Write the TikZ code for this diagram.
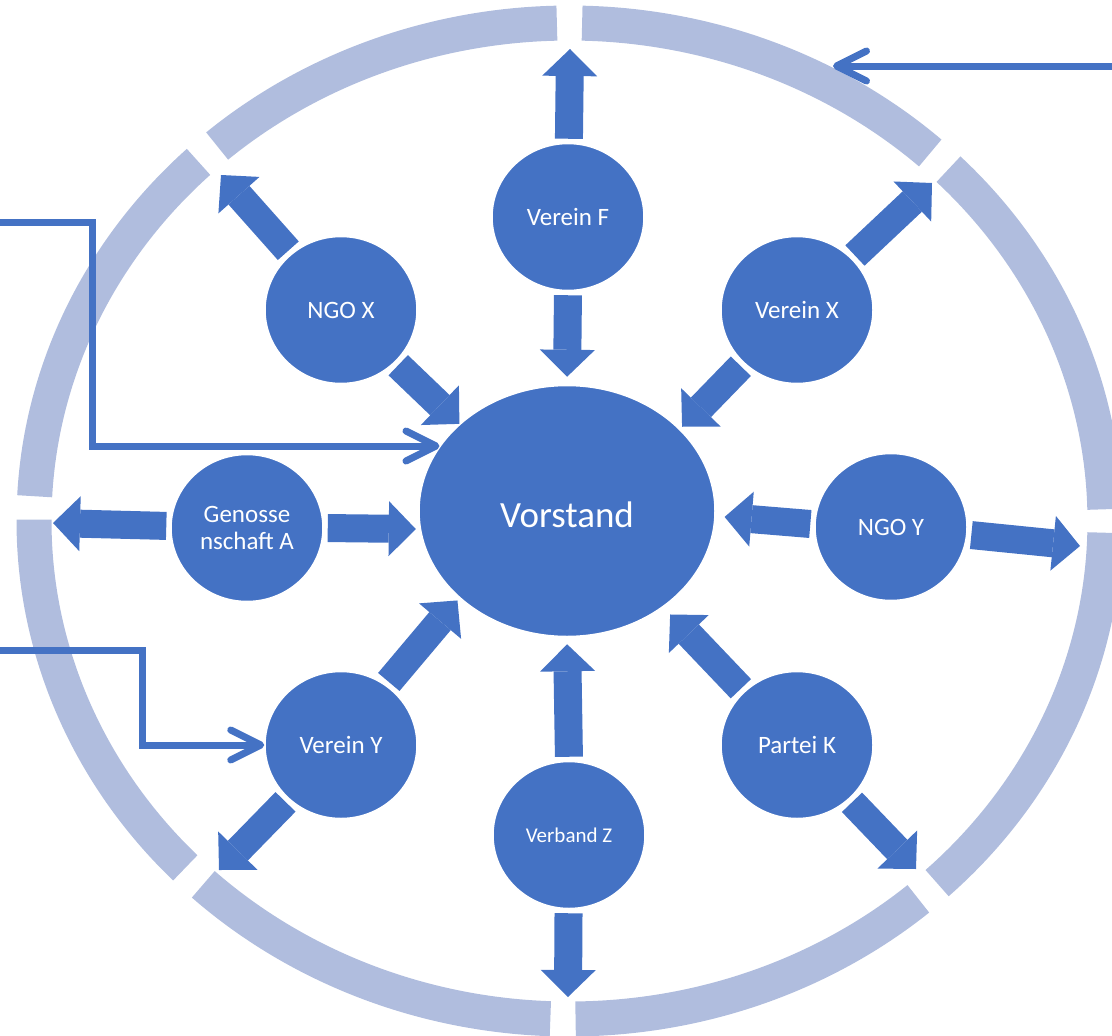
\documentclass[tikz,border=0pt]{standalone}
\usepackage{fontspec}
\setmainfont{Carlito}
\usepackage{tikz}
\usetikzlibrary{calc,shapes,arrows.meta}

\definecolor{shapeblue}{RGB}{68,114,196}
\definecolor{ringblue}{RGB}{176,189,222}

\tikzset{
  org/.style={ellipse, fill=shapeblue, draw=white, line width=1.5pt, text=white,
    minimum width=152pt, minimum height=147pt, inner sep=0pt, align=center,
    font=\fontsize{25}{27}\selectfont},
  bigarrow/.style={shapeblue, line width=28pt, shorten <=4pt,
    -{Triangle[length=27pt,width=55pt,line width=0pt]}},
  link/.style={shapeblue, line width=7pt, -{Straight Barb[length=30pt,width=30pt,round]}},
  ring/.style={ringblue, line width=35pt}
}

\begin{document}
\begin{tikzpicture}[x=1pt,y=-1pt]
    \clip (0,0) rectangle (1112,1036);

    % outer ring, eight pieces
    \coordinate (ctr) at (569.5,521);
    \foreach \a/\b in {1.35/44.95, 47.65/88.65, 91.35/131.15, 133.85/177.15,
                       179.85/224.15, 226.85/267.95, 270.65/310.65, 313.35/358.65}
     \draw[ring] (ctr) ++(-\a:535.5 and 498) arc[start angle=-\a, end angle=-\b, x radius=535.5, y radius=498];

    \node[org, minimum width=296pt, minimum height=251pt,
          font=\fontsize{37}{40}\selectfont] (vorstand) at (567,511) {\raisebox{-16pt}[0pt][0pt]{Vorstand}};
    \node[org] (vereinf) at (568,217) {Verein F};
    \node[org] (ngox) at (341,310) {NGO X};
    \node[org] (vereinx) at (797,310) {Verein X};
    \node[org] (genossenschaft) at (247,528) {Genosse\\nschaft A};
    \node[org] (ngoy) at (891,527) {NGO Y};
    \node[org] (vereiny) at (341,745) {Verein Y};
    \node[org] (parteik) at (797,745) {Partei K};
    \node[org, font=\fontsize{21}{24}\selectfont] (verbandz) at (569,835) {Verband Z};

    % arrow ends on the ring
    \coordinate (tipN) at (570,49);
    \coordinate (tipNW) at (221,175);
    \coordinate (tipNE) at (932,183);
    \coordinate (tipW) at (53,523);
    \coordinate (tipE) at (1080,546);
    \coordinate (tipSW) at (219,870);
    \coordinate (tipS) at (568,997);
    \coordinate (tipSE) at (916,869);

    \foreach \s/\e/\g in {vereinf.south/vorstand.north/8, ngox.-44/vorstand.141/0,
                          vereinx.225/vorstand.36/3, genossenschaft.east/vorstand.187/4,
                          ngoy.178/vorstand.-2/9, vereiny.53/vorstand.219/3,
                          verbandz.north/vorstand.south/7, parteik.135/vorstand.-45/10}
     \draw[bigarrow, shorten >=\g pt] (\s) -- (\e);
    \foreach \n/\t in {vereinf/tipN, ngox/tipNW, vereinx/tipNE, genossenschaft/tipW,
                       ngoy/tipE, vereiny/tipSW, verbandz/tipS, parteik/tipSE}
     \draw[bigarrow] (\n) -- (\t);

    % lines coming in from outside
    \coordinate (inA) at (0,222);
    \coordinate (inB) at (0,650);
    \coordinate (inC) at (1112,66);
    \coordinate (hitC) at (833,66);
    \draw[link] (inA) -- ++(92,0) |- (vorstand.153);
    \draw[link] (inB) -- ++(142,0) |- (vereiny.west);
    \draw[link] (inC) -- (hitC);
\end{tikzpicture}
\end{document}
